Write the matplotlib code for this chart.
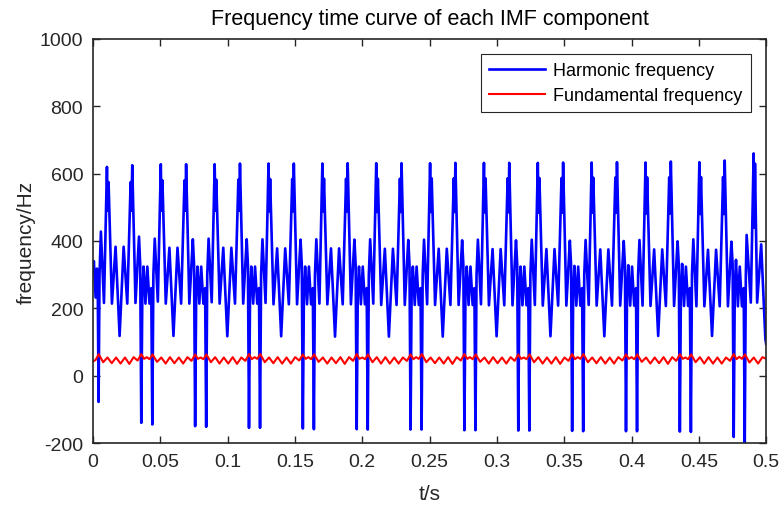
import matplotlib

matplotlib.use("Agg")
import matplotlib.pyplot as plt

# harmonic frequency curve, time in ms (one row per 40 ms cycle)
harmonic_t_ms = [
    0.0, 0.7, 2.0, 3.0, 3.6, 4.2, 4.9, 5.9, 8.2, 10.4, 11.0, 11.6, 14.1, 16.8, 19.8, 22.8, 25.5, 28.0, 28.6, 29.2, 31.6, 34.2, 35.1, 35.9, 36.7, 37.6, 39.0, 40.4, 42.0, 43.3, 44.1,
    44.9, 45.9, 48.2, 50.4, 51.0, 51.6, 54.1, 56.8, 59.8, 62.8, 65.5, 68.0, 68.6, 69.2, 71.6, 74.2, 75.1, 75.9, 76.7, 77.6, 79.0, 80.4, 82.0, 83.3, 84.1,
    84.9, 85.9, 88.2, 90.4, 91.0, 91.6, 94.1, 96.8, 99.8, 102.8, 105.5, 108.0, 108.6, 109.2, 111.6, 114.2, 115.1, 115.9, 116.7, 117.6, 119.0, 120.4, 122.0, 123.3, 124.1,
    124.9, 125.9, 128.2, 130.4, 131.0, 131.6, 134.1, 136.8, 139.8, 142.8, 145.5, 148.0, 148.6, 149.2, 151.6, 154.2, 155.1, 155.9, 156.7, 157.6, 159.0, 160.4, 162.0, 163.3, 164.1,
    164.9, 165.9, 168.2, 170.4, 171.0, 171.6, 174.1, 176.8, 179.8, 182.8, 185.5, 188.0, 188.6, 189.2, 191.6, 194.2, 195.1, 195.9, 196.7, 197.6, 199.0, 200.4, 202.0, 203.3, 204.1,
    204.9, 205.9, 208.2, 210.4, 211.0, 211.6, 214.1, 216.8, 219.8, 222.8, 225.5, 228.0, 228.6, 229.2, 231.6, 234.2, 235.1, 235.9, 236.7, 237.6, 239.0, 240.4, 242.0, 243.3, 244.1,
    244.9, 245.9, 248.2, 250.4, 251.0, 251.6, 254.1, 256.8, 259.8, 262.8, 265.5, 268.0, 268.6, 269.2, 271.6, 274.2, 275.1, 275.9, 276.7, 277.6, 279.0, 280.4, 282.0, 283.3, 284.1,
    284.9, 285.9, 288.2, 290.4, 291.0, 291.6, 294.1, 296.8, 299.8, 302.8, 305.5, 308.0, 308.6, 309.2, 311.6, 314.2, 315.1, 315.9, 316.7, 317.6, 319.0, 320.4, 322.0, 323.3, 324.1,
    324.9, 325.9, 328.2, 330.4, 331.0, 331.6, 334.1, 336.8, 339.8, 342.8, 345.5, 348.0, 348.6, 349.2, 351.6, 354.2, 355.1, 355.9, 356.7, 357.6, 359.0, 360.4, 362.0, 363.3, 364.1,
    364.9, 365.9, 368.2, 370.4, 371.0, 371.6, 374.1, 376.8, 379.8, 382.8, 385.5, 388.0, 388.6, 389.2, 391.6, 394.2, 395.1, 395.9, 396.7, 397.6, 399.0, 400.4, 402.0, 403.3, 404.1,
    404.9, 405.9, 408.2, 410.4, 411.0, 411.6, 414.1, 416.8, 419.8, 422.8, 425.5, 428.0, 428.6, 429.2, 431.6, 434.2, 435.1, 435.9, 436.7, 437.6, 439.0, 440.4, 442.0, 443.3, 444.1,
    444.9, 445.9, 448.2, 450.4, 451.0, 451.6, 454.1, 456.8, 459.8, 462.8, 465.5, 468.0, 468.6, 469.2, 471.6, 474.2, 475.1, 475.9, 476.7, 477.6, 479.0, 480.4, 482.0, 483.3, 484.1,
    484.9, 485.5, 488.6, 490.7, 491.2, 491.7, 493.3, 496.3, 499.4, 500.0,
]
harmonic_hz = [
    318, 340, 232, 318, 250, -78, 300, 428, 216, 620, 490, 575, 214, 383, 118, 383, 214, 575, 490, 625, 216, 413, 330, -140, 250, 324, 214, 324, 214, 260, -145,
    300, 407, 220, 628, 490, 580, 214, 380, 118, 380, 214, 580, 490, 628, 214, 405, 330, -150, 250, 324, 214, 324, 214, 260, -152,
    300, 407, 218, 628, 490, 582, 214, 380, 117, 380, 214, 582, 490, 630, 214, 405, 330, -155, 250, 324, 214, 324, 214, 260, -155,
    300, 405, 216, 630, 488, 584, 212, 378, 117, 378, 212, 584, 488, 630, 212, 404, 330, -157, 252, 324, 212, 324, 212, 260, -159,
    300, 405, 214, 630, 488, 585, 212, 378, 116, 378, 212, 585, 488, 631, 212, 404, 330, -159, 252, 324, 212, 324, 212, 260, -160,
    300, 405, 214, 631, 486, 585, 210, 377, 116, 377, 210, 585, 486, 631, 210, 403, 330, -160, 254, 324, 210, 324, 210, 260, -160,
    300, 404, 212, 631, 486, 586, 210, 377, 116, 377, 210, 586, 486, 632, 210, 402, 330, -162, 254, 324, 210, 324, 210, 260, -162,
    300, 404, 212, 632, 485, 586, 209, 376, 117, 376, 209, 586, 485, 632, 209, 402, 330, -163, 256, 324, 209, 324, 209, 260, -163,
    300, 404, 210, 632, 484, 587, 208, 376, 117, 376, 208, 587, 484, 633, 208, 401, 330, -164, 256, 326, 208, 324, 208, 260, -165,
    300, 403, 210, 633, 484, 588, 208, 375, 117, 375, 208, 588, 484, 634, 208, 400, 330, -165, 258, 328, 208, 324, 208, 260, -165,
    300, 403, 208, 633, 482, 589, 207, 375, 118, 375, 207, 589, 482, 636, 207, 399, 330, -166, 258, 332, 207, 324, 207, 260, -167,
    300, 405, 206, 634, 480, 590, 206, 374, 118, 374, 206, 590, 480, 639, 206, 398, 330, -182, 260, 344, 206, 324, 206, 260, -200,
    300, 418, 217, 660, 440, 630, 217, 390, 110, 94,
]

# fundamental frequency curve, time in ms
fundamental_t_ms = [
    0.0, 2.0,
    4.3, 7.6, 10.8, 14.0, 17.2, 20.5, 23.8, 27.0, 30.2, 33.2, 35.9, 38.0, 40.0, 42.0,
    44.3, 47.6, 50.8, 54.0, 57.2, 60.5, 63.8, 67.0, 70.2, 73.2, 75.9, 78.0, 80.0, 82.0,
    84.3, 87.6, 90.8, 94.0, 97.2, 100.5, 103.8, 107.0, 110.2, 113.2, 115.9, 118.0, 120.0, 122.0,
    124.3, 127.6, 130.8, 134.0, 137.2, 140.5, 143.8, 147.0, 150.2, 153.2, 155.9, 158.0, 160.0, 162.0,
    164.3, 167.6, 170.8, 174.0, 177.2, 180.5, 183.8, 187.0, 190.2, 193.2, 195.9, 198.0, 200.0, 202.0,
    204.3, 207.6, 210.8, 214.0, 217.2, 220.5, 223.8, 227.0, 230.2, 233.2, 235.9, 238.0, 240.0, 242.0,
    244.3, 247.6, 250.8, 254.0, 257.2, 260.5, 263.8, 267.0, 270.2, 273.2, 275.9, 278.0, 280.0, 282.0,
    284.3, 287.6, 290.8, 294.0, 297.2, 300.5, 303.8, 307.0, 310.2, 313.2, 315.9, 318.0, 320.0, 322.0,
    324.3, 327.6, 330.8, 334.0, 337.2, 340.5, 343.8, 347.0, 350.2, 353.2, 355.9, 358.0, 360.0, 362.0,
    364.3, 367.6, 370.8, 374.0, 377.2, 380.5, 383.8, 387.0, 390.2, 393.2, 395.9, 398.0, 400.0, 402.0,
    404.3, 407.6, 410.8, 414.0, 417.2, 420.5, 423.8, 427.0, 430.2, 433.2, 435.9, 438.0, 440.0, 442.0,
    444.3, 447.6, 450.8, 454.0, 457.2, 460.5, 463.8, 467.0, 470.2, 473.2, 475.9, 478.0, 480.0, 482.0,
    484.3, 487.6, 490.8, 494.0, 497.2, 500.0,
]
fundamental_hz = [
    42, 47,
    64, 40, 54, 37, 54, 36, 54, 35, 55, 45, 64, 50, 55, 49,
    63, 41, 54, 36, 55, 37, 54, 36, 55, 44, 63, 50, 54, 49,
    63, 40, 55, 36, 54, 36, 55, 35, 54, 44, 64, 49, 55, 50,
    64, 40, 54, 37, 55, 36, 54, 36, 55, 45, 63, 50, 55, 49,
    63, 41, 54, 36, 54, 37, 55, 35, 55, 44, 64, 50, 54, 49,
    63, 40, 55, 36, 55, 36, 54, 36, 54, 44, 63, 49, 55, 50,
    64, 40, 54, 37, 54, 36, 55, 35, 55, 45, 64, 50, 55, 49,
    63, 41, 54, 36, 55, 37, 54, 36, 55, 44, 63, 50, 54, 49,
    63, 40, 55, 36, 54, 36, 55, 35, 54, 44, 64, 49, 55, 50,
    64, 40, 54, 37, 55, 36, 54, 36, 55, 45, 63, 50, 55, 49,
    63, 41, 54, 36, 54, 37, 55, 35, 55, 44, 64, 50, 54, 49,
    63, 40, 55, 36, 55, 36, 54, 36, 54, 44, 64, 49, 56, 50,
    63, 39, 54, 36, 55, 50,
]

x_ticks = [0, 0.05, 0.1, 0.15, 0.2, 0.25, 0.3, 0.35, 0.4, 0.45, 0.5]
x_tick_labels = ["0", "0.05", "0.1", "0.15", "0.2", "0.25", "0.3", "0.35", "0.4", "0.45", "0.5"]
y_ticks = [-200, 0, 200, 400, 600, 800, 1000]
series_labels = ["Harmonic frequency", "Fundamental frequency"]

fig_width, fig_height, fig_dpi = 7.81, 5.06, 100
axes_rect = [0.119, 0.1225, 0.862, 0.7985]
harmonic_color = "#0000ff"
fundamental_color = "#ff0000"
axis_color = "#262626"
tick_fontsize = 14
label_fontsize = 15
title_fontsize = 15.5
legend_fontsize = 13

plt.rcParams["font.family"] = ["Liberation Sans", "DejaVu Sans"]
plt.rcParams["axes.unicode_minus"] = False

fig = plt.figure(figsize=(fig_width, fig_height), dpi=fig_dpi, facecolor="white")
ax = fig.add_axes(axes_rect)

ax.plot([t / 1000 for t in harmonic_t_ms], harmonic_hz, color=harmonic_color,
        linewidth=1.9, label=series_labels[0])
ax.plot([t / 1000 for t in fundamental_t_ms], fundamental_hz, color=fundamental_color,
        linewidth=1.5, label=series_labels[1])

ax.set_xlim(0, 0.5)
ax.set_ylim(-200, 1000)
ax.set_xticks(x_ticks)
ax.set_xticklabels(x_tick_labels)
ax.set_yticks(y_ticks)
ax.tick_params(direction="in", top=True, right=True, length=5, width=1,
               labelsize=tick_fontsize, colors=axis_color, pad=7)
for spine in ax.spines.values():
    spine.set_linewidth(1.2)
    spine.set_color(axis_color)

ax.set_title("Frequency time curve of each IMF component", fontsize=title_fontsize,
             color="black", pad=11)
ax.set_xlabel("t/s", fontsize=label_fontsize, color=axis_color, labelpad=10)
ax.set_ylabel("frequency/Hz", fontsize=label_fontsize, color=axis_color, labelpad=3)

leg = ax.legend(loc="upper right", bbox_to_anchor=(0.977, 0.963), fontsize=legend_fontsize,
                fancybox=False, framealpha=1, edgecolor=axis_color, handlelength=3.1,
                borderpad=0.45, labelspacing=0.45, handletextpad=0.45, borderaxespad=0)
leg.get_frame().set_linewidth(0.8)

fig.savefig("out.png", dpi=fig_dpi)
plt.close(fig)
